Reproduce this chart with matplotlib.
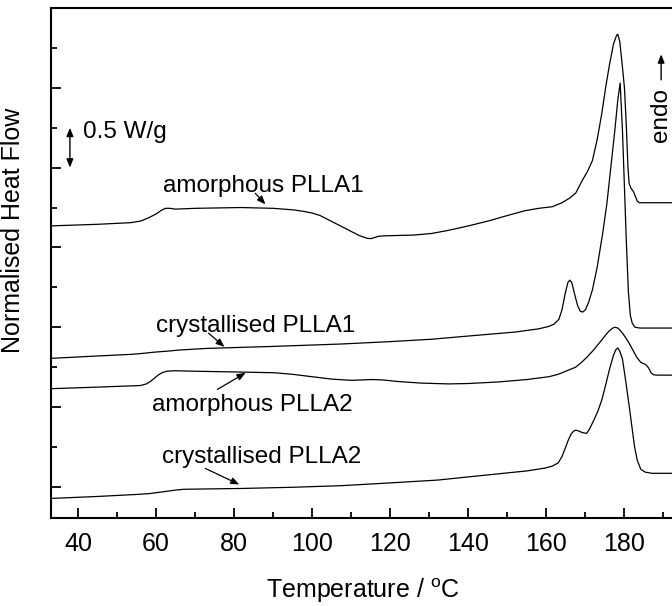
import matplotlib
matplotlib.use("Agg")
import matplotlib.pyplot as plt
from matplotlib.ticker import MultipleLocator

plt.rcParams['font.family'] = ['Liberation Sans', 'DejaVu Sans']
plt.rcParams['mathtext.fontset'] = 'custom'
plt.rcParams['mathtext.rm'] = 'Liberation Sans'

# ---- data (temperature in deg C, normalised heat flow in W/g, offset) ----
t_amorph1 = [33, 45, 53.4, 56, 58, 60, 61.5, 62.4, 63.5, 65, 70, 81.7, 90, 95.3, 98, 100,
             102, 104, 106, 108, 110, 112, 114, 115, 116, 117, 118.5, 122, 126, 130.6,
             135, 140, 145, 150, 154.5, 158, 161.5, 164, 166, 167.5, 169.2, 170.5, 171.8,
             173, 174.2, 175.2, 176.2, 177.2, 178.0, 178.3, 178.8, 179.4, 180.0, 180.5,
             180.9, 181.2, 181.7, 182.3, 182.8, 183.3, 183.8, 186, 200]
y_amorph1 = [3.27, 3.29, 3.31, 3.33, 3.37, 3.42, 3.47, 3.49, 3.49, 3.48, 3.49, 3.50, 3.49,
             3.47, 3.45, 3.43, 3.40, 3.35, 3.30, 3.25, 3.20, 3.15, 3.115, 3.11, 3.125,
             3.14, 3.145, 3.15, 3.155, 3.175, 3.215, 3.27, 3.33, 3.40, 3.46, 3.49, 3.51,
             3.56, 3.62, 3.68, 3.84, 3.95, 4.09, 4.35, 4.68, 5.01, 5.30, 5.55, 5.66, 5.67,
             5.58, 5.30, 5.00, 4.50, 4.00, 3.80, 3.74, 3.70, 3.64, 3.58, 3.56, 3.56, 3.56]

t_cryst1 = [33, 45, 53.4, 56, 58, 60, 62.8, 66, 73.1, 90, 107.4, 120, 130.6, 140, 152, 158,
            160.6, 162, 163.2, 164, 164.8, 165.5, 166.0, 166.5, 167.2, 168, 168.7, 169.3,
            170, 170.8, 171.8, 173, 174.4, 175.5, 176.5, 177.5, 178.3, 178.9, 179.5, 180.0,
            180.5, 181.0, 181.5, 182.0, 182.7, 184, 200]
y_cryst1 = [1.61, 1.64, 1.66, 1.67, 1.68, 1.69, 1.70, 1.715, 1.735, 1.76, 1.79, 1.82, 1.85,
            1.89, 1.94, 1.98, 2.01, 2.04, 2.10, 2.22, 2.42, 2.56, 2.59, 2.56, 2.42, 2.27,
            2.20, 2.19, 2.22, 2.31, 2.47, 2.75, 3.17, 3.55, 4.00, 4.45, 4.85, 5.06, 4.45,
            3.75, 3.05, 2.45, 2.15, 2.05, 2.00, 1.99, 1.99]

t_amorph2 = [33, 45, 56, 57.5, 58.5, 59.5, 60.5, 61.5, 62.8, 65, 68.8, 80, 90.3, 95, 100,
             105, 110, 113, 115.2, 118, 122, 128, 134.9, 140, 147.8, 155, 160.6, 163, 165,
             167.5, 169, 170.5, 172, 173.5, 174.8, 176, 177, 177.6, 178.3, 179.3, 180.3,
             181.2, 182.2, 183.2, 184.2, 184.9, 185.5, 186.2, 186.8, 187.4, 188.5, 200]
y_amorph2 = [1.23, 1.25, 1.27, 1.29, 1.32, 1.36, 1.40, 1.43, 1.45, 1.455, 1.45, 1.44, 1.43,
             1.41, 1.38, 1.35, 1.335, 1.34, 1.345, 1.34, 1.32, 1.30, 1.29, 1.295, 1.315,
             1.345, 1.38, 1.41, 1.45, 1.50, 1.56, 1.63, 1.71, 1.80, 1.88, 1.95, 1.99, 2.00,
             1.99, 1.94, 1.87, 1.80, 1.71, 1.62, 1.56, 1.545, 1.53, 1.49, 1.43, 1.405, 1.40,
             1.40]

t_cryst2 = [33, 45, 55, 58.5, 62, 65, 67.1, 81.7, 95, 107.4, 120, 132.1, 145, 155, 159.6,
            161.5, 163, 164, 164.8, 165.6, 166.3, 167, 167.6, 168.3, 169.2, 170.3, 171, 172,
            173.2, 174.2, 175.2, 176.2, 177.2, 177.8, 178.3, 178.8, 179.5, 180.4, 181.3,
            182.0, 182.6, 183.3, 184.2, 185.3, 187, 200]
y_cryst2 = [-0.145, -0.12, -0.095, -0.083, -0.06, -0.04, -0.03, -0.02, -0.005, 0.015, 0.05,
            0.085, 0.15, 0.20, 0.235, 0.26, 0.30, 0.38, 0.48, 0.585, 0.66, 0.70, 0.71, 0.70,
            0.68, 0.67, 0.72, 0.82, 0.95, 1.09, 1.28, 1.48, 1.65, 1.72, 1.74, 1.70, 1.60,
            1.30, 0.98, 0.72, 0.50, 0.33, 0.22, 0.185, 0.17, 0.17]

labels = ["amorphous PLLA1", "crystallised PLLA1", "amorphous PLLA2", "crystallised PLLA2"]
x_ticks = [40, 60, 80, 100, 120, 140, 160, 180]

# ---- figure ----
fig = plt.figure(figsize=(6.72, 6.06), dpi=100)
ax = fig.add_axes([51/672, 88/606, 1.003 - 51/672, 510/606])

for t, y in [(t_amorph1, y_amorph1), (t_cryst1, y_cryst1),
             (t_amorph2, y_amorph2), (t_cryst2, y_cryst2)]:
    ax.plot(t, y, color='black', lw=0.9, solid_joinstyle='round')

ax.set_xlim(33.05, 192.7)
ax.set_ylim(-0.39, 6.0)
ax.set_xticks(x_ticks)
ax.xaxis.set_minor_locator(MultipleLocator(10))
ax.yaxis.set_major_locator(MultipleLocator(1))
ax.yaxis.set_minor_locator(MultipleLocator(0.5))
ax.tick_params(axis='both', which='both', direction='in', width=1.3)
ax.tick_params(axis='both', which='major', length=7)
ax.tick_params(axis='both', which='minor', length=4)
ax.tick_params(axis='x', labelsize=18, pad=10)
ax.tick_params(axis='y', labelleft=False)
for s in ['left', 'bottom', 'top', 'right']:
    ax.spines[s].set_linewidth(1.5)

ax.set_xlabel(r'Temperature / $^{\mathrm{o}}$C', fontsize=18, labelpad=15)
ax.set_ylabel('Normalised Heat Flow', fontsize=18)
ax.yaxis.set_label_coords(-0.042, 0.563)

fs = 17.5
arrow = dict(arrowstyle='-|>,head_length=0.5,head_width=0.2', color='black', lw=0.9,
             shrinkA=0, shrinkB=0)
ax.text(61.8, 3.693, labels[0], fontsize=fs, ha='left', va='baseline')
ax.annotate('', xy=(88.0, 3.54), xytext=(85.4, 3.678), arrowprops=arrow)
ax.text(60.0, 1.942, labels[1], fontsize=fs, ha='left', va='baseline')
ax.annotate('', xy=(77.5, 1.754), xytext=(73.4, 1.926), arrowprops=arrow)
ax.text(59.0, 0.952, labels[2], fontsize=fs, ha='left', va='baseline')
ax.annotate('', xy=(82.9, 1.429), xytext=(75.7, 1.221), arrowprops=arrow)
ax.text(61.6, 0.293, labels[3], fontsize=fs, ha='left', va='baseline')
ax.annotate('', xy=(81.3, 0.030), xytext=(72.6, 0.231), arrowprops=arrow)

# scale bar
ax.annotate('', xy=(37.9, 4.5), xytext=(37.9, 4.0),
            arrowprops=dict(arrowstyle='<|-|>,head_length=0.5,head_width=0.2',
                            color='black', lw=1.0, shrinkA=0, shrinkB=0))
ax.text(41.3, 4.366, '0.5 W/g', fontsize=fs, ha='left', va='baseline')

# endo direction
ax.text(189.3, 4.66, 'endo', fontsize=fs, rotation=90, ha='center', va='center')
ax.annotate('', xy=(189.4, 5.42), xytext=(189.4, 5.10),
            arrowprops=dict(arrowstyle='-|>,head_length=0.5,head_width=0.2',
                            color='black', lw=1.0, shrinkA=0, shrinkB=0))

fig.savefig('out.png', dpi=100)
